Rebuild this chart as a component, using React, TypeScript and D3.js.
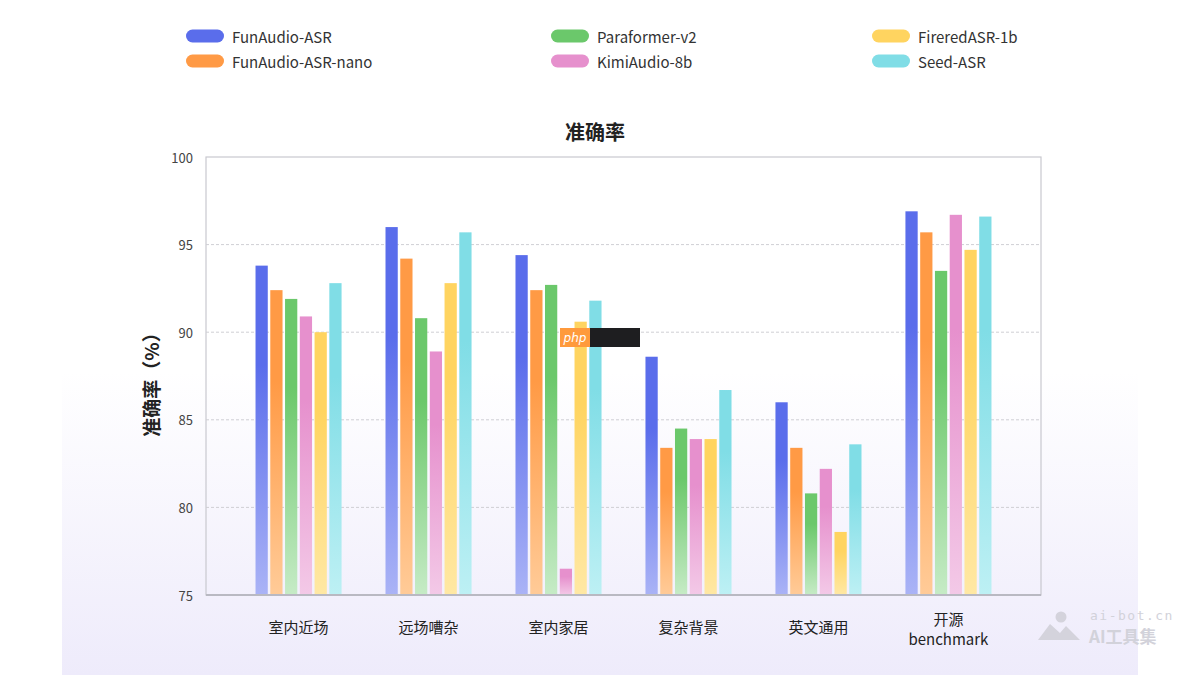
import React from "react";
import * as d3 from "d3";

const categories = ["室内近场", "远场嘈杂", "室内家居", "复杂背景", "英文通用", "开源\nbenchmark"];
const seriesNames = ["FunAudio-ASR", "FunAudio-ASR-nano", "Paraformer-v2", "KimiAudio-8b", "FireredASR-1b", "Seed-ASR"];
const funAudio = [93.8, 96.0, 94.4, 88.6, 86.0, 96.9];
const funAudioNano = [92.4, 94.2, 92.4, 83.4, 83.4, 95.7];
const paraformer = [91.9, 90.8, 92.7, 84.5, 80.8, 93.5];
const kimiAudio = [90.9, 88.9, 76.5, 83.9, 82.2, 96.7];
const fireredAsr = [90.0, 92.8, 90.6, 83.9, 78.6, 94.7];
const seedAsr = [92.8, 95.7, 91.8, 86.7, 83.6, 96.6];
const yTicks = [75, 80, 85, 90, 95, 100];

const seriesValues = [funAudio, funAudioNano, paraformer, kimiAudio, fireredAsr, seedAsr];
const topColors = ["#5a6deb", "#ff9a45", "#6bc86b", "#e690cd", "#ffd460", "#80dde6"];
const bottomColors = ["#aab3f6", "#ffcb98", "#c6ebc6", "#f3c9e7", "#ffe8a4", "#bdf0f4"];

const W = 1200;
const H = 675;
const plot = { left: 206, right: 1041, top: 157, bottom: 595 };
const FONT = "'Noto Sans CJK SC', 'Noto Sans', sans-serif";

export default function App() {
  const x = d3.scaleBand<string>().domain(categories).range([plot.left, plot.right]).paddingInner(0.338).paddingOuter(0.381);
  const xi = d3.scaleBand<string>().domain(seriesNames).range([0, x.bandwidth()]).paddingInner(0.17).paddingOuter(0);
  const y = d3.scaleLinear().domain([75, 100]).range([plot.bottom, plot.top]);

  const legendCols = [186, 551, 872];
  const legendRows = [36, 61];

  return (
    <svg width={W} height={H} style={{ position: "absolute", left: 0, top: 0, display: "block" }} fontFamily={FONT}>
      <defs>
        <linearGradient id="panelGrad" x1="0" y1="0" x2="0" y2="1">
          <stop offset="0" stopColor="#ffffff" />
          <stop offset="0.55" stopColor="#ffffff" />
          <stop offset="1" stopColor="#eeebfb" />
        </linearGradient>
        {seriesNames.map((s, i) => (
          <linearGradient key={s} id={`bar${i}`} x1="0" y1="0" x2="0" y2="1">
            <stop offset="0" stopColor={topColors[i]} />
            <stop offset="0.3" stopColor={topColors[i]} />
            <stop offset="1" stopColor={bottomColors[i]} />
          </linearGradient>
        ))}
      </defs>
      <rect x={0} y={0} width={W} height={H} fill="#ffffff" />
      <rect x={62} y={0} width={1076} height={H} fill="url(#panelGrad)" />

      {/* legend */}
      {seriesNames.map((s, i) => {
        const col = Math.floor(i / 2);
        const row = i % 2;
        const lx = legendCols[col];
        const ly = legendRows[row];
        return (
          <g key={s}>
            <rect x={lx} y={ly - 6.5} width={38} height={13} rx={6.5} fill={topColors[i]} />
            <text x={lx + 46} y={ly} dominantBaseline="central" fontSize={15} fill="#333">{s}</text>
          </g>
        );
      })}

      {/* title */}
      <text x={595} y={131} textAnchor="middle" dominantBaseline="central" fontSize={20} fontWeight="bold" fill="#222">准确率</text>

      {/* plot frame */}
      <rect x={plot.left} y={plot.top} width={plot.right - plot.left} height={plot.bottom - plot.top} fill="none" stroke="#c9c9cf" strokeWidth={1.2} />

      {/* gridlines */}
      {yTicks.filter((t) => t > 75 && t < 100).map((t) => (
        <line key={t} x1={plot.left} x2={plot.right} y1={y(t)} y2={y(t)} stroke="#cfcfd4" strokeWidth={1} strokeDasharray="3,2" />
      ))}

      {/* bars */}
      {categories.map((c, ci) => (
        <g key={c} transform={`translate(${x(c)},0)`}>
          {seriesNames.map((s, si) => {
            const v = seriesValues[si][ci];
            return (
              <rect key={s} x={xi(s)} y={y(v)} width={xi.bandwidth()} height={y(75) - y(v)} fill={`url(#bar${si})`} />
            );
          })}
        </g>
      ))}

      {/* axis bottom line */}
      <line x1={plot.left} x2={plot.right} y1={plot.bottom} y2={plot.bottom} stroke="#b9b9c2" strokeWidth={2} />

      {/* y ticks */}
      {yTicks.map((t) => (
        <text key={t} x={193} y={y(t)} textAnchor="end" dominantBaseline="central" fontSize={13} fill="#444">{t}</text>
      ))}

      {/* y title */}
      <text transform={`translate(150,380) rotate(-90)`} textAnchor="middle" dominantBaseline="central" fontSize={19} fontWeight="bold" fill="#222">准确率（%）</text>

      {/* x labels */}
      {categories.map((c) => {
        const lines = c.split("\n");
        const cx = (x(c) as number) + x.bandwidth() / 2;
        const y0 = lines.length === 1 ? 626 : 618;
        return (
          <text key={c} textAnchor="middle" fontSize={15} fill="#222">
            {lines.map((l, li) => (
              <tspan key={li} x={cx} y={y0 + li * 20} dominantBaseline="central">{l}</tspan>
            ))}
          </text>
        );
      })}

      {/* php badge overlay */}
      <rect x={560} y={328} width={30} height={19} fill="#ff9a3c" />
      <rect x={590} y={328} width={50} height={19} fill="#1e1e20" />
      <text x={575} y={337.5} textAnchor="middle" dominantBaseline="central" fontSize={12} fontStyle="italic" fill="#ffffff" fontFamily="'DejaVu Sans', sans-serif">php</text>

      {/* watermark */}
      <g fill="#d4d3dc">
        <circle cx={1061} cy={617} r={5.5} />
        <path d="M1038,640 L1050,624 L1060,633 L1066,626 L1080,640 Z" />
      </g>
      <text x={1090} y={615} dominantBaseline="central" fontSize={13} fill="#d2d2da" fontFamily="'DejaVu Sans Mono', monospace" letterSpacing={1.5}>ai-bot.cn</text>
      <text x={1089} y={635} dominantBaseline="central" fontSize={17} fontWeight="bold" fill="#d2d2da">AI工具集</text>
    </svg>
  );
}
